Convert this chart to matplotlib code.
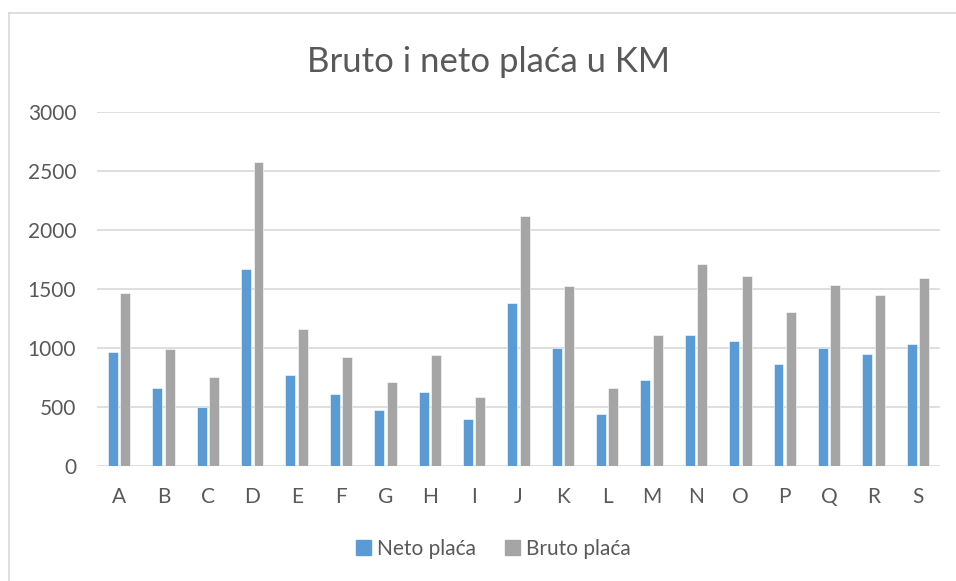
import numpy as np
import matplotlib.pyplot as plt
from matplotlib.patches import Patch
from matplotlib.lines import Line2D

categories = list("ABCDEFGHIJKLMNOPQRS")
neto = [963, 661, 503, 1664, 768, 613, 477, 624, 398, 1376,
        997, 441, 732, 1105, 1056, 862, 1000, 952, 1034]
bruto = [1469, 994, 751, 2573, 1161, 927, 712, 941, 585, 2119,
         1528, 658, 1107, 1712, 1610, 1308, 1534, 1444, 1593]
y_ticks = [0, 500, 1000, 1500, 2000, 2500, 3000]

BLUE = "#5B9BD5"
GREY = "#A5A5A5"
TEXT = "#595959"
GRID = "#D9D9D9"

plt.rcParams["font.family"] = ["Lato", "DejaVu Sans"]

fig = plt.figure(figsize=(9.56, 5.81), dpi=100)
ax = fig.add_axes([97 / 956, 1 - 466 / 581, (940 - 97) / 956, (466 - 111.7) / 581])

x = np.arange(len(categories))
w = 0.225
off = 0.14
ax.bar(x - off, neto, width=w, color=BLUE, edgecolor="white", linewidth=0.4, zorder=3)
ax.bar(x + off, bruto, width=w, color=GREY, edgecolor="white", linewidth=0.4, zorder=3)

ax.set_xlim(-0.5, len(categories) - 0.5)
ax.set_ylim(0, 3000)
ax.set_yticks(y_ticks)
ax.set_xticks(x)
ax.set_xticklabels(categories)
ax.yaxis.grid(True, color=GRID, linewidth=1.2, zorder=0)
ax.set_axisbelow(True)
for s in ax.spines.values():
    s.set_visible(False)
ax.tick_params(axis="both", length=0, colors=TEXT, labelsize=15)
ax.tick_params(axis="y", pad=15)
ax.tick_params(axis="x", pad=15)

fig.text(0.511, 1 - 62 / 581, "Bruto i neto plaća u KM", ha="center", va="center",
         fontsize=25, color=TEXT)

# chart border (top and left visible)
fig.add_artist(Line2D([8.5 / 956, 8.5 / 956], [0, 1 - 12.5 / 581],
                      color=GRID, linewidth=1.2, transform=fig.transFigure))
fig.add_artist(Line2D([8.5 / 956, 1], [1 - 12.5 / 581, 1 - 12.5 / 581],
                      color=GRID, linewidth=1.2, transform=fig.transFigure))

handles = [Patch(color=BLUE, label="Neto plaća"), Patch(color=GREY, label="Bruto plaća")]
leg = fig.legend(handles=handles, loc="center", bbox_to_anchor=(0.516, 1 - 549 / 581),
                 ncol=2, frameon=False, fontsize=15, handlelength=0.7, handleheight=0.7,
                 handletextpad=0.3, columnspacing=1.4, labelcolor=TEXT)

fig.savefig("out.png", dpi=100)
